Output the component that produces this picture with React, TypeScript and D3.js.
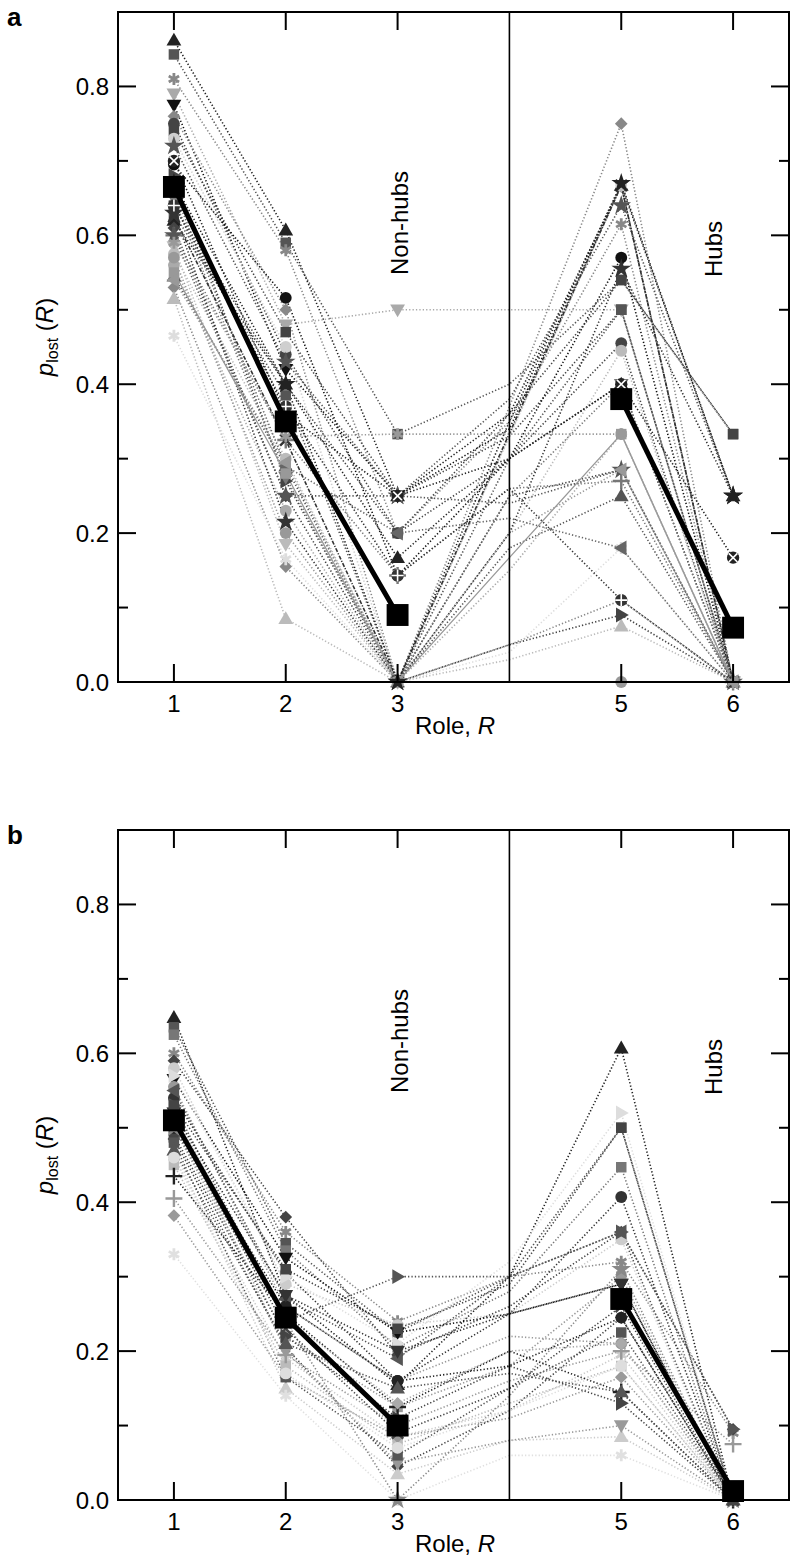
import React from "react";
import * as d3 from "d3";

// Roles on the x axis (role 4 carries no marker, only the line bend)
const ROLES = [1, 2, 3, 4, 5, 6];
const MARKED_ROLES = [1, 2, 3, 5, 6];
const X_TICKS = [1, 2, 3, 5, 6];
const Y_MAJOR = [0, 0.2, 0.4, 0.6, 0.8];
const Y_MINOR = [0.1, 0.3, 0.5, 0.7];

// Panel a: per-organism p_lost values at roles 1..6
const valuesA: number[][] = [
  [0.862, 0.607, 0.25, 0.36, 0.667, 0.25],
  [0.843, 0.59, 0.333, 0.4, 0.54, 0.333],
  [0.81, 0.58, 0.2, 0.35, 0.615, 0],
  [0.79, 0.48, 0.5, 0.5, 0.5, 0],
  [0.775, 0.42, 0.25, 0.34, 0.667, 0],
  [0.76, 0.5, 0, 0.37, 0.75, 0],
  [0.75, 0.44, 0.2, 0.3, 0.455, 0],
  [0.74, 0.47, 0.25, 0.33, 0.5, 0],
  [0.73, 0.45, 0, 0.33, 0.667, 0],
  [0.72, 0.43, 0.25, 0.38, 0.64, 0.25],
  [0.695, 0.516, 0.143, 0.3, 0.57, 0],
  [0.64, 0.4, 0.2, 0.36, 0.54, 0.333],
  [0.63, 0.385, 0, 0.3, 0.5, 0],
  [0.62, 0.4, 0.167, 0.3, 0.4, 0],
  [0.61, 0.25, 0, 0.25, 0.285, 0],
  [0.6, 0.325, 0.143, 0.26, 0.27, 0],
  [0.575, 0.3, 0, 0.2, 0.445, 0],
  [0.56, 0.23, 0, 0.15, 0.333, 0],
  [0.545, 0.29, 0, 0.18, 0.25, 0],
  [0.53, 0.155, 0, 0.05, 0.11, 0],
  [0.515, 0.085, 0, 0.03, 0.075, 0],
  [0.465, 0.165, 0, 0.04, 0.18, 0],
  [0.68, 0.27, 0, 0.05, 0.09, 0],
  [0.66, 0.29, 0.2, 0.22, 0.18, 0],
  [0.65, 0.275, 0, 0.25, 0.4, 0],
  [0.63, 0.215, 0, 0.2, 0.555, 0.25],
  [0.6, 0.25, 0.25, 0.24, 0.285, 0],
  [0.585, 0.185, 0, 0.33, 0.667, 0],
  [0.625, 0.325, 0, 0.334, 0.667, 0],
  [0.55, 0.28, 0, 0.167, 0.333, 0],
  [0.57, 0.2, 0, 0, 0, 0],
  [0.7, 0.36, 0.25, 0.3, 0.4, 0.167],
  [0.64, 0.37, 0.143, 0.26, 0.11, 0],
  [0.59, 0.33, 0.333, 0.333, 0.333, 0],
  [0.54, 0.295, 0, 0.2, 0.285, 0],
  [0.67, 0.4, 0, 0.35, 0.67, 0.25],
];
const shapesA = [
  "triUp", "square", "asterisk", "triDown", "triDown", "diamond", "circle", "square",
  "circle", "star", "circle", "square", "square", "triUp", "diamond", "plus",
  "circle", "circle", "triUp", "diamond", "triUp", "asterisk", "triRight", "triLeft",
  "triDown", "star", "star", "triDown", "x", "square", "circle", "circleX",
  "circlePlus", "asterisk", "triLeft", "star",
];
const tonesA = [
  "#222", "#555", "#888", "#aaa", "#111", "#888", "#444", "#444",
  "#cfcfcf", "#555", "#111", "#444", "#555", "#222", "#444", "#777",
  "#bbb", "#aaa", "#555", "#888", "#bbb", "#ddd", "#444", "#666",
  "#777", "#333", "#555", "#bbb", "#333", "#999", "#999", "#222",
  "#333", "#999", "#999", "#222",
];
const strokesA = [
  "dot", "dot", "dot", "dot", "dot", "dot", "dot", "dot",
  "dot", "dot", "dot", "dot", "dot", "dot", "dot", "dot",
  "dot", "dot", "dot", "dot", "dot", "dot", "dot", "dot",
  "dot", "dot", "dot", "dot", "dashdot", "solid", "dot", "dot",
  "dot", "dot", "dot", "dot",
];
const meanA = [0.665, 0.35, 0.09, 0.38, 0.073]; // at MARKED_ROLES

// Panel b
const valuesB: number[][] = [
  [0.648, 0.275, 0.155, 0.3, 0.607, 0],
  [0.635, 0.345, 0.225, 0.3, 0.5, 0],
  [0.625, 0.335, 0.205, 0.28, 0.447, 0],
  [0.6, 0.36, 0.24, 0.3, 0.32, 0.09],
  [0.59, 0.38, 0.195, 0.26, 0.36, 0.095],
  [0.58, 0.29, 0.235, 0.25, 0.35, 0],
  [0.565, 0.325, 0.225, 0.25, 0.29, 0],
  [0.555, 0.26, 0.16, 0.22, 0.21, 0],
  [0.54, 0.305, 0.16, 0.25, 0.407, 0],
  [0.53, 0.24, 0.3, 0.3, 0.36, 0.095],
  [0.5, 0.22, 0.125, 0.18, 0.3, 0],
  [0.485, 0.205, 0.045, 0.12, 0.245, 0],
  [0.47, 0.15, 0.035, 0.08, 0.085, 0],
  [0.46, 0.19, 0.085, 0.12, 0.195, 0],
  [0.45, 0.18, 0.075, 0.13, 0.18, 0],
  [0.435, 0.25, 0.125, 0.2, 0.145, 0],
  [0.405, 0.195, 0.1, 0.16, 0.2, 0.075],
  [0.382, 0.165, 0.085, 0.11, 0.165, 0],
  [0.33, 0.14, 0, 0.06, 0.06, 0],
  [0.52, 0.2, 0.05, 0.08, 0.1, 0],
  [0.49, 0.22, 0.11, 0.18, 0.13, 0],
  [0.55, 0.27, 0.19, 0.3, 0.36, 0],
  [0.5, 0.26, 0.16, 0.18, 0.245, 0],
  [0.48, 0.165, 0.06, 0.15, 0.225, 0],
  [0.57, 0.3, 0.21, 0.32, 0.52, 0],
  [0.52, 0.245, 0.13, 0.2, 0.21, 0],
  [0.5, 0.24, 0, 0.14, 0.31, 0],
  [0.47, 0.21, 0.15, 0.17, 0.145, 0],
  [0.46, 0.17, 0.07, 0.12, 0.18, 0],
  [0.52, 0.275, 0.2, 0.25, 0.29, 0],
  [0.53, 0.31, 0.23, 0.29, 0.5, 0],
  [0.51, 0.23, 0.09, 0.15, 0.26, 0],
];
const shapesB = [
  "triUp", "square", "square", "asterisk", "diamond", "circle", "triDown", "circle",
  "circle", "triRight", "square", "diamond", "triUp", "asterisk", "square", "plus",
  "plus", "diamond", "asterisk", "triDown", "triRight", "triLeft", "circle", "square",
  "triRight", "diamond", "star", "triUp", "circle", "triDown", "square", "x",
];
const tonesB = [
  "#222", "#555", "#777", "#888", "#444", "#ccc", "#111", "#999",
  "#333", "#555", "#999", "#444", "#ccc", "#ccc", "#bbb", "#222",
  "#999", "#999", "#e0e0e0", "#999", "#444", "#555", "#222", "#555",
  "#ddd", "#aaa", "#888", "#555", "#ddd", "#333", "#444", "#444",
];
const strokesB = tonesB.map(() => "dot");
const meanB = [0.51, 0.245, 0.1, 0.27, 0.012];

const FONT = "'Liberation Sans', Arial, Helvetica, sans-serif";
const FS = 24;

function Marker({ shape, tone, cx, cy }: { shape: string; tone: string; cx: number; cy: number }) {
  const tri = d3.symbol(d3.symbolTriangle, 95)() as string;
  const t = `translate(${cx},${cy})`;
  switch (shape) {
    case "triUp":
      return <path d={tri} transform={`${t} translate(0,1)`} fill={tone} />;
    case "triDown":
      return <path d={tri} transform={`${t} rotate(180) translate(0,1)`} fill={tone} />;
    case "triLeft":
      return <path d={tri} transform={`${t} rotate(-90) translate(0,1)`} fill={tone} />;
    case "triRight":
      return <path d={tri} transform={`${t} rotate(90) translate(0,1)`} fill={tone} />;
    case "square":
      return <path d={d3.symbol(d3.symbolSquare, 110)() as string} transform={t} fill={tone} />;
    case "circle":
      return <path d={d3.symbol(d3.symbolCircle, 110)() as string} transform={t} fill={tone} />;
    case "diamond":
      return <path d={d3.symbol(d3.symbolSquare, 80)() as string} transform={`${t} rotate(45)`} fill={tone} />;
    case "star":
      return <path d={d3.symbol(d3.symbolStar, 120)() as string} transform={t} fill={tone} />;
    case "asterisk":
      return (
        <path d={d3.symbol(d3.symbolAsterisk, 100)() as string} transform={t} fill="none" stroke={tone} strokeWidth={2.8} />
      );
    case "plus":
      return (
        <path d={d3.symbol(d3.symbolPlus, 95)() as string} transform={t} fill="none" stroke={tone} strokeWidth={2.4} />
      );
    case "x":
      return (
        <path d={d3.symbol(d3.symbolTimes, 85)() as string} transform={t} fill="none" stroke={tone} strokeWidth={2.4} />
      );
    case "circlePlus":
    case "circleX":
      return (
        <g transform={t}>
          <path d={d3.symbol(d3.symbolCircle, 120)() as string} fill={tone} />
          <path
            d={d3.symbol(shape === "circlePlus" ? d3.symbolPlus : d3.symbolTimes, 50)() as string}
            fill="none"
            stroke="#fff"
            strokeWidth={1.6}
          />
        </g>
      );
    default:
      return null;
  }
}

function Panel({
  top,
  letter,
  values,
  shapes,
  tones,
  strokes,
  mean,
}: {
  top: number;
  letter: string;
  values: number[][];
  shapes: string[];
  tones: string[];
  strokes: string[];
  mean: number[];
}) {
  const left = 118;
  const right = 789;
  const bottom = top + 670;
  const x = d3.scaleLinear().domain([0.5, 6.5]).range([left, right]);
  const y = d3.scaleLinear().domain([0, 0.9]).range([bottom, top]);
  const line = d3
    .line<[number, number]>()
    .x((d) => x(d[0]))
    .y((d) => y(d[1]));
  const dash = (s: string) => (s === "solid" ? undefined : s === "dashdot" ? "4 1.5 1.2 1.5" : "1.3 2.1");
  const meanPts: [number, number][] = MARKED_ROLES.map((r, i) => [r, mean[i]]);

  return (
    <g>
      <text x={7} y={top + 14} fontFamily={FONT} fontWeight="bold" fontSize={26} fill="#000">
        {letter}
      </text>
      {/* series lines */}
      {values.map((vals, i) => (
        <path
          key={"l" + i}
          d={line(ROLES.map((r, j) => [r, vals[j]] as [number, number])) as string}
          fill="none"
          stroke={tones[i]}
          strokeWidth={strokes[i] === "solid" ? 1.3 : 1.6}
          strokeDasharray={dash(strokes[i])}
        />
      ))}
      {/* series markers */}
      {values.map((vals, i) =>
        MARKED_ROLES.map((r) => (
          <Marker key={"m" + i + "_" + r} shape={shapes[i]} tone={tones[i]} cx={x(r)} cy={y(vals[ROLES.indexOf(r)])} />
        ))
      )}
      {/* mean */}
      <path d={line(meanPts.slice(0, 3)) as string} fill="none" stroke="#000" strokeWidth={5} />
      <path d={line(meanPts.slice(3)) as string} fill="none" stroke="#000" strokeWidth={5} />
      {meanPts.map((p, i) => (
        <path
          key={"mean" + i}
          d={d3.symbol(d3.symbolSquare, 480)() as string}
          transform={`translate(${x(p[0])},${y(p[1])})`}
          fill="#000"
        />
      ))}
      {/* divider between non-hubs and hubs */}
      <line x1={x(4)} x2={x(4)} y1={top} y2={bottom} stroke="#000" strokeWidth={1.6} />
      {/* frame */}
      <rect x={left} y={top} width={right - left} height={bottom - top} fill="none" stroke="#000" strokeWidth={2} />
      {/* y ticks */}
      {Y_MAJOR.map((v) => (
        <g key={"ym" + v}>
          <line x1={left} x2={left + 18} y1={y(v)} y2={y(v)} stroke="#000" strokeWidth={2} />
          <line x1={right} x2={right - 18} y1={y(v)} y2={y(v)} stroke="#000" strokeWidth={2} />
          <text x={left - 9} y={y(v) + 8.5} textAnchor="end" fontFamily={FONT} fontSize={FS} fill="#000">
            {v.toFixed(1)}
          </text>
        </g>
      ))}
      {Y_MINOR.map((v) => (
        <g key={"yn" + v}>
          <line x1={left} x2={left + 10} y1={y(v)} y2={y(v)} stroke="#000" strokeWidth={2} />
          <line x1={right} x2={right - 10} y1={y(v)} y2={y(v)} stroke="#000" strokeWidth={2} />
        </g>
      ))}
      {/* x ticks */}
      {X_TICKS.map((r) => (
        <g key={"xt" + r}>
          <line x1={x(r)} x2={x(r)} y1={bottom} y2={bottom - 18} stroke="#000" strokeWidth={2} />
          <line x1={x(r)} x2={x(r)} y1={top} y2={top + 18} stroke="#000" strokeWidth={2} />
          <text x={x(r)} y={bottom + 30} textAnchor="middle" fontFamily={FONT} fontSize={FS} fill="#000">
            {r}
          </text>
        </g>
      ))}
      <text x={455} y={bottom + 52} textAnchor="middle" fontFamily={FONT} fontSize={FS} fill="#000">
        Role, <tspan fontStyle="italic">R</tspan>
      </text>
      <text
        transform={`translate(53,${(top + bottom) / 2 - 10}) rotate(-90)`}
        textAnchor="middle"
        fontFamily={FONT}
        fontSize={FS}
        fill="#000"
      >
        <tspan fontStyle="italic">p</tspan>
        <tspan fontSize={16} dy={5}>
          lost
        </tspan>
        <tspan dy={-5}> (</tspan>
        <tspan fontStyle="italic">R</tspan>
        <tspan>)</tspan>
      </text>
      <text
        transform={`translate(408,${top + 211}) rotate(-90)`}
        textAnchor="middle"
        fontFamily={FONT}
        fontSize={FS}
        fill="#000"
      >
        Non-hubs
      </text>
      <text
        transform={`translate(722,${top + 237}) rotate(-90)`}
        textAnchor="middle"
        fontFamily={FONT}
        fontSize={FS}
        fill="#000"
      >
        Hubs
      </text>
    </g>
  );
}

export default function App() {
  return (
    <svg
      width={800}
      height={1568}
      viewBox="0 0 800 1568"
      style={{ position: "absolute", left: 0, top: 0, background: "#fff" }}
    >
      <rect x={0} y={0} width={800} height={1568} fill="#fff" />
      <Panel top={12} letter="a" values={valuesA} shapes={shapesA} tones={tonesA} strokes={strokesA} mean={meanA} />
      <Panel top={830} letter="b" values={valuesB} shapes={shapesB} tones={tonesB} strokes={strokesB} mean={meanB} />
    </svg>
  );
}
